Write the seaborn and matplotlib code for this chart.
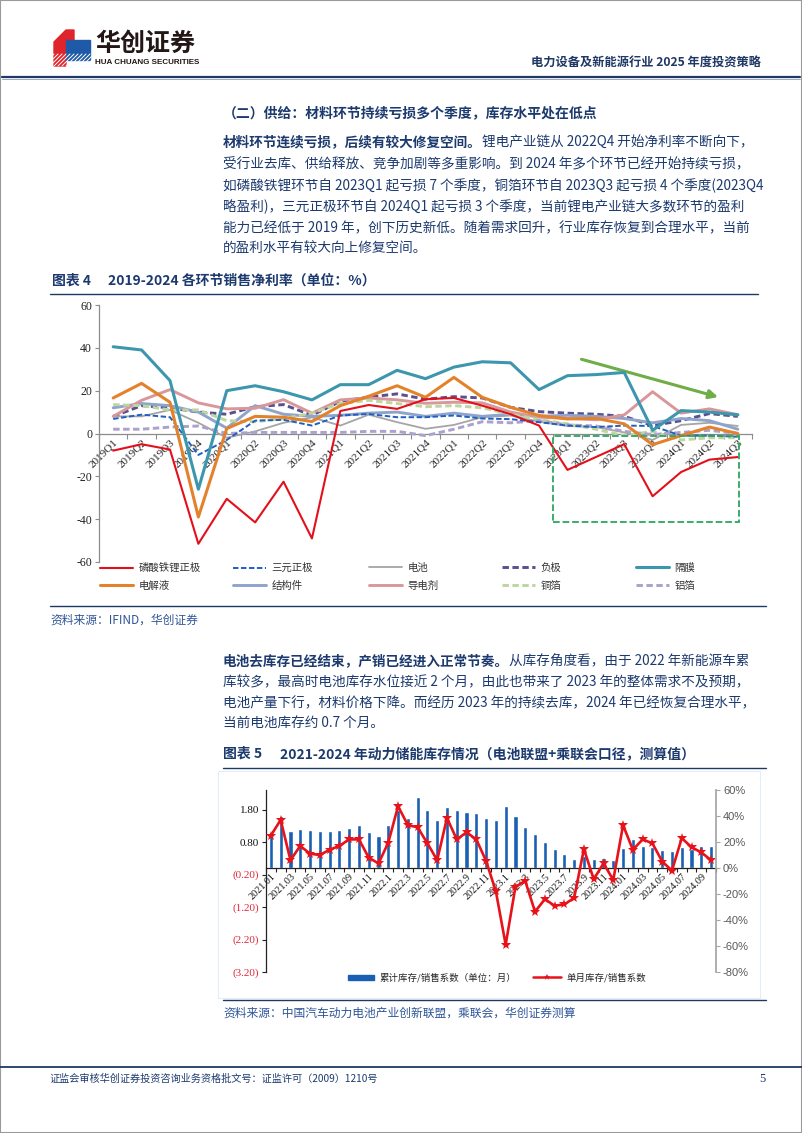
import numpy as np
import matplotlib
matplotlib.use("Agg")
import matplotlib.pyplot as plt
import seaborn as sns
from matplotlib.lines import Line2D
from matplotlib.patches import Rectangle, Polygon, Patch

# ---------------- data: chart 1 (net margin by segment, %) ----------------
quarters = ["2019Q1", "2019Q2", "2019Q3", "2019Q4", "2020Q1", "2020Q2", "2020Q3", "2020Q4",
            "2021Q1", "2021Q2", "2021Q3", "2021Q4", "2022Q1", "2022Q2", "2022Q3", "2022Q4",
            "2023Q1", "2023Q2", "2023Q3", "2023Q4", "2024Q1", "2024Q2", "2024Q3"]
lfp = [-8, -5, -7.5, -51.5, -30.5, -41.5, -22.5, -49, 10.5, 13.3, 11.5, 16, 16.6, 13, 9, 3.7,
       -17, -11, -5, -29.3, -18, -12.2, -11]
ncm = [6.8, 8.8, 7.6, -10, -3, 6, 6.4, 3.7, 8.4, 9.1, 7.6, 7.6, 8.4, 7, 6.7, 5.3,
       3.7, 3, 3.7, 3.5, -1, -1, -1.5]
battery = [8, 8, 11, 5, -2, 1, 5, 7.5, 3.7, 8.8, 5.3, 2.2, 4, 7.6, 8.4, 5.5,
           3.5, 3, 0.5, -3, 4, 5, 3.5]
anode = [8, 13, 12, 10, 9, 12.5, 13.5, 8.5, 15, 17, 18.5, 16, 17.2, 16.6, 12.2, 10.2,
         9.5, 9, 8, 3.7, 6, 9.3, 8]
separator = [40.5, 39, 24.7, -26, 20, 22.3, 19.5, 15.7, 22.8, 22.8, 29.5, 25.6, 31, 33.5, 33, 20.5,
             27, 27.5, 28.5, 1.5, 10.7, 10, 8.7]
electrolyte = [16.6, 23.4, 14.6, -39, 2.3, 8, 7.6, 5.6, 13, 17.4, 22.3, 16.9, 26.2, 16.9, 12.2, 8.4,
               6.8, 7.1, 4.5, -5.2, -1, 3, 0]
structure = [12, 14, 13, 10, 2.5, 13, 9, 8, 8.5, 9.5, 10, 8, 9.5, 8, 9, 8,
             8.5, 8, 7, 5, 7, 6, 2]
conductive = [8, 15.5, 20.5, 14.3, 11.5, 11.8, 15.8, 9.5, 15.7, 16.6, 15.7, 14.1, 14.6, 14.3, 10, 7.6,
              7.1, 6.4, 8.7, 19.5, 9.5, 11.5, 8.8]
copper = [13.5, 13, 11, 11, 6, 5.5, 7, 9.5, 14, 15.5, 14, 12.5, 13, 12, 9, 6.5,
          4.5, 2, -1, 1, -3, -2, -2]
aluminum = [2, 2, 3, 3.5, 0, 0.5, 0.5, 0.5, 0.5, 1, 1, -1, 2, 5.5, 5, 6,
            4, 3.5, 1, -0.5, 0.5, 1.5, 0]
y1_ticks = [-60, -40, -20, 0, 20, 40, 60]

# ---------------- data: chart 2 (inventory / sales) ----------------
months = ["2021.01", "2021.02", "2021.03", "2021.04", "2021.05", "2021.06", "2021.07", "2021.08",
          "2021.09", "2021.10", "2021.11", "2021.12",
          "2022.1", "2022.2", "2022.3", "2022.4", "2022.5", "2022.6", "2022.7", "2022.8",
          "2022.9", "2022.10", "2022.11", "2022.12",
          "2023.1", "2023.2", "2023.3", "2023.4", "2023.5", "2023.6", "2023.7", "2023.8",
          "2023.9", "2023.10", "2023.11", "2023.12",
          "2024.01", "2024.02", "2024.03", "2024.04", "2024.05", "2024.06", "2024.07", "2024.08",
          "2024.09", "2024.10"]
cum_ratio = [1.00, 1.60, 1.13, 1.19, 1.17, 1.14, 1.15, 1.18, 1.22, 1.31, 1.12, 1.00,
             1.31, 1.77, 1.53, 2.17, 1.80, 1.47, 1.87, 1.77, 1.71, 1.69, 1.54, 1.47,
             1.91, 1.59, 1.26, 1.04, 0.79, 0.58, 0.43, 0.29, 0.37, 0.28, 0.30, 0.24,
             0.61, 0.88, 0.67, 0.64, 0.55, 0.51, 0.65, 0.59, 0.67, 0.67]
month_ratio = [25, 37, 6, 17, 11, 10, 14, 17, 22, 22, 8, 3.5,
               19.5, 47.5, 33, 31.3, 19, 6, 38.5, 22, 27.4, 22, 5.4, -18,
               -59, -14.4, -10, -33.6, -24, -29, -28, -23, 14.6, -8.7, 3.6, -9.2,
               33, 14, 22, 19, 5, -2, 23, 16, 12, 6]
left_ticks = [-3.2, -2.2, -1.2, -0.2, 0.8, 1.8]
left_labels = ["(3.20)", "(2.20)", "(1.20)", "(0.20)", "0.80", "1.80"]
right_ticks = [-80, -60, -40, -20, 0, 20, 40, 60]

# ---------------- style ----------------
sns.set_theme(style="ticks")
CJK = ["Noto Sans CJK SC", "DejaVu Sans"]
SERIF = ["Liberation Serif", "DejaVu Serif"]
plt.rcParams["font.family"] = CJK
plt.rcParams["axes.unicode_minus"] = False

NAVY = "#1f3864"
TEXT = "#1c3a6e"
SRC = "#2f5597"
BODY = 9.8

W, H = 802, 1133
fig = plt.figure(figsize=(W / 100, H / 100), dpi=100)
renderer = fig.canvas.get_renderer()


def px_axes(l, t, r, b):
    return fig.add_axes([l / W, 1 - b / H, (r - l) / W, (b - t) / H])


def txt(x, y, s, **kw):
    kw.setdefault("va", "center")
    return fig.text(x / W, 1 - y / H, s, **kw)


def hline(x0, x1, y, **kw):
    fig.add_artist(Line2D([x0 / W, x1 / W], [1 - y / H] * 2, transform=fig.transFigure, **kw))


def para_line(x, y, bold, rest, size=BODY):
    end = x
    if bold:
        t = txt(x, y, bold, fontsize=size, fontweight="bold", color=TEXT)
        end = t.get_window_extent(renderer).x1
    if rest:
        txt(end, y, rest, fontsize=size, color=TEXT)


# page frame
fig.add_artist(Rectangle((0, 0), 1, 1, transform=fig.transFigure, fill=False,
                         ec="#9a9a9a", lw=1.5))

# ---------------- header ----------------
ax_logo = px_axes(52, 28, 92, 68)
ax_logo.set_xlim(0, 40)
ax_logo.set_ylim(40, 0)
ax_logo.axis("off")
ax_logo.add_patch(Polygon([(2, 14), (14, 2), (22, 2), (22, 12), (14, 12), (14, 38), (2, 38)],
                          closed=True, color="#e0242b"))
ax_logo.add_patch(Polygon([(14, 12), (38, 12), (38, 32), (14, 32)], closed=True, color="#1f5aa8"))
for k in range(-10, 40, 4):
    ax_logo.plot([k, k + 12], [38, 26], color="white", lw=0.7)

txt(95, 44, "华创证券", fontsize=18, fontweight="bold", color="#231815")
txt(95, 62, "HUA CHUANG SECURITIES", fontsize=5.8, fontweight="bold", color="#231815",
    family=["Liberation Sans", "DejaVu Sans"])
txt(761, 63, "电力设备及新能源行业 2025 年度投资策略", ha="right", fontsize=8.8,
    fontweight="bold", color=NAVY)
hline(2, 800, 76.5, color=NAVY, lw=1.6)
hline(2, 800, 79, color="#8a9bb8", lw=0.6)

# ---------------- section 1 text ----------------
txt(223, 113, "（二）供给：材料环节持续亏损多个季度，库存水平处在低点", fontsize=10,
    fontweight="bold", color=TEXT)
para_line(223, 142, "材料环节连续亏损，后续有较大修复空间。", "锂电产业链从 2022Q4 开始净利率不断向下，")
para_line(223, 164, "", "受行业去库、供给释放、竞争加剧等多重影响。到 2024 年多个环节已经开始持续亏损，")
para_line(223, 186, "", "如磷酸铁锂环节自 2023Q1 起亏损 7 个季度，铜箔环节自 2023Q3 起亏损 4 个季度(2023Q4")
para_line(223, 207, "", "略盈利)，三元正极环节自 2024Q1 起亏损 3 个季度，当前锂电产业链大多数环节的盈利")
para_line(223, 228, "", "能力已经低于 2019 年，创下历史新低。随着需求回升，行业库存恢复到合理水平，当前")
para_line(223, 249, "", "的盈利水平有较大向上修复空间。")

# ---------------- chart 1 ----------------
txt(52, 281, "图表 4", fontsize=10, fontweight="bold", color=TEXT)
txt(108, 281, "2019-2024 各环节销售净利率（单位：%）", fontsize=10, fontweight="bold", color=TEXT)
hline(50, 758, 294, color=NAVY, lw=1.0)

dash_s = (0, (2.8, 1.3))
dash_l = (0, (2.2, 1.2))
series1 = [
    ("磷酸铁锂正极", lfp, "#e3101c", 1.5, "-", 9),
    ("三元正极", ncm, "#1f5fc0", 1.4, dash_s, 6),
    ("电池", battery, "#a5a5a5", 1.3, "-", 5),
    ("负极", anode, "#5a4f8f", 2.1, dash_l, 4),
    ("隔膜", separator, "#3c97ae", 2.2, "-", 7),
    ("电解液", electrolyte, "#e4822c", 2.2, "-", 6),
    ("结构件", structure, "#8fa4cc", 2.1, "-", 5),
    ("导电剂", conductive, "#d9979a", 2.1, "-", 5),
    ("铜箔", copper, "#bcd69e", 2.1, dash_l, 5),
    ("铝箔", aluminum, "#aca0cc", 2.1, dash_l, 5),
]

ax1 = px_axes(99, 305, 752, 562)
idx1 = np.arange(len(quarters))
handles1 = {}
for name, vals, col, lw, ls, z in series1:
    sns.lineplot(x=idx1, y=vals, ax=ax1, color=col, linewidth=lw, linestyle=ls, zorder=z)
    handles1[name] = Line2D([], [], color=col, lw=lw, linestyle=ls)

ax1.annotate("", xy=(21.4, 16.7), xytext=(16.4, 35),
             arrowprops=dict(arrowstyle="-|>", color="#70ad47", lw=2.2, mutation_scale=13))
ax1.add_patch(Rectangle((15.5, -41.4), 6.55, 40.4, fill=False, ls="--", ec="#2aa760", lw=1.3,
                        zorder=10))

# spines first: moving a spine resets the tick objects
for s in ("top", "right"):
    ax1.spines[s].set_visible(False)
ax1.spines["bottom"].set_position(("data", 0))
for s in ("bottom", "left"):
    ax1.spines[s].set_color("#8c8c8c")
    ax1.spines[s].set_linewidth(0.9)

ax1.set_xlim(-0.5, len(quarters) - 0.5)
ax1.set_ylim(-60, 60)
ax1.set_yticks(y1_ticks)
ax1.set_yticklabels([str(v) for v in y1_ticks], family=SERIF, fontsize=8.5, color="#222222")
ax1.set_xticks(idx1)
ax1.set_xticklabels(quarters, family=SERIF, fontsize=8, color="#222222")
ax1.set_xticks(np.arange(-0.5, len(quarters), 1), minor=True)
ax1.tick_params(axis="x", which="major", length=0, pad=3)
ax1.tick_params(axis="x", which="minor", length=3.5, color="#8c8c8c", width=0.8)
ax1.tick_params(axis="y", length=3, color="#8c8c8c", width=0.8, pad=2)
for lab in ax1.get_xticklabels():
    lab.set_rotation(45)
    lab.set_ha("right")
    lab.set_rotation_mode("anchor")
ax1.set_xlabel("")
ax1.set_ylabel("")
ax1.patch.set_alpha(0)

# legend: five columns, two rows
leg_cols = [("磷酸铁锂正极", "电解液"), ("三元正极", "结构件"), ("电池", "导电剂"),
            ("负极", "铜箔"), ("隔膜", "铝箔")]
leg_x = [100, 233, 369, 502, 636]
for (a, b), lx in zip(leg_cols, leg_x):
    lg = fig.legend([handles1[a], handles1[b]], [a, b], loc="upper left",
                    bbox_to_anchor=(lx / W, 1 - 563 / H), frameon=False, fontsize=7.5,
                    borderpad=0, borderaxespad=0, handlelength=3.2, handletextpad=0.5,
                    labelspacing=0.75)
    for t in lg.get_texts():
        t.set_color("#333333")

hline(50, 766, 606, color=NAVY, lw=1.0)
txt(50, 620, "资料来源：IFIND，华创证券", fontsize=8.5, color=SRC)

# ---------------- section 2 text ----------------
para_line(223, 661, "电池去库存已经结束，产销已经进入正常节奏。", "从库存角度看，由于 2022 年新能源车累")
para_line(223, 682, "", "库较多，最高时电池库存水位接近 2 个月，由此也带来了 2023 年的整体需求不及预期，")
para_line(223, 703, "", "电池产量下行，材料价格下降。而经历 2023 年的持续去库，2024 年已经恢复合理水平，")
para_line(223, 723, "", "当前电池库存约 0.7 个月。")

# ---------------- chart 2 ----------------
txt(223, 754, "图表 5", fontsize=10, fontweight="bold", color=TEXT)
txt(280, 754, "2021-2024 年动力储能库存情况（电池联盟+乘联会口径，测算值）", fontsize=10,
    fontweight="bold", color=TEXT)
hline(223, 766, 768, color=NAVY, lw=1.0)
fig.add_artist(Rectangle((218 / W, 1 - 998 / H), (760 - 218) / W, (998 - 771) / H,
                         transform=fig.transFigure, fill=False, ec="#e2edf7", lw=0.8))

BAR = "#1a5fb4"
RED = "#e8121b"
ax2 = px_axes(266, 790, 716, 972)
idx2 = np.arange(len(months))
sns.barplot(x=idx2, y=cum_ratio, ax=ax2, color=BAR, width=0.42, saturation=1,
            errorbar=None, orient="x")

for s in ("top", "right"):
    ax2.spines[s].set_visible(False)
ax2.spines["bottom"].set_position(("data", 0))
for s in ("bottom", "left"):
    ax2.spines[s].set_color("#222222")
    ax2.spines[s].set_linewidth(0.9)

ax2.set_xlim(-0.5, len(months) - 0.5)
ax2.set_ylim(-3.2, 2.4)
ax2.set_yticks(left_ticks)
ax2.set_yticklabels(left_labels, family=SERIF, fontsize=8)
for lab, v in zip(ax2.get_yticklabels(), left_ticks):
    lab.set_color("#e0283c" if v < 0 else "#111111")
ax2.set_xticks(idx2[::2])
ax2.set_xticklabels(months[::2], family=SERIF, fontsize=7.3, color="#111111")
ax2.set_xticks(np.arange(-0.5, len(months), 1), minor=True)
ax2.tick_params(axis="x", which="major", length=0, pad=3)
ax2.tick_params(axis="x", which="minor", length=3, color="#222222", width=0.8)
ax2.tick_params(axis="y", length=3, color="#222222", width=0.8, pad=2)
for lab in ax2.get_xticklabels():
    lab.set_rotation(45)
    lab.set_ha("right")
    lab.set_rotation_mode("anchor")
ax2.set_xlabel("")
ax2.set_ylabel("")

ax2r = ax2.twinx()
sns.lineplot(x=idx2, y=month_ratio, ax=ax2r, color=RED, linewidth=1.9, marker="*",
             markersize=7.5, markeredgewidth=0)
for s in ("top", "left", "bottom"):
    ax2r.spines[s].set_visible(False)
ax2r.spines["right"].set_color("#a6a6a6")
ax2r.set_xlim(-0.5, len(months) - 0.5)
ax2r.set_ylim(-80, 60)
ax2r.set_yticks(right_ticks)
ax2r.set_yticklabels([f"{v}%" for v in right_ticks], family=["Liberation Sans"], fontsize=8,
                     color="#595959")
ax2r.tick_params(axis="y", length=3, color="#a6a6a6", width=0.8, pad=2)
ax2r.set_ylabel("")

fig.legend([Patch(color=BAR)], ["累计库存/销售系数（单位：月）"], loc="center left",
           bbox_to_anchor=(348 / W, 1 - 978 / H), frameon=False, fontsize=6.8, borderpad=0,
           borderaxespad=0, handlelength=2.8, handleheight=0.55, handletextpad=0.5)
fig.legend([Line2D([], [], color=RED, lw=1.8, marker="*", markersize=5, markeredgewidth=0)],
           ["单月库存/销售系数"], loc="center left", bbox_to_anchor=(533 / W, 1 - 978 / H),
           frameon=False, fontsize=6.8, borderpad=0, borderaxespad=0, handlelength=3.0,
           handletextpad=0.5)

hline(223, 766, 1000, color=NAVY, lw=1.0)
txt(223, 1013, "资料来源：中国汽车动力电池产业创新联盟，乘联会，华创证券测算", fontsize=8.5, color=SRC)

# ---------------- footer ----------------
hline(0, 802, 1067, color=NAVY, lw=1.3)
txt(50, 1079, "证监会审核华创证券投资咨询业务资格批文号：证监许可（2009）1210号", fontsize=7.3,
    color=TEXT)
txt(762, 1079, "5", ha="center", fontsize=9, color=TEXT, family=SERIF)

fig.savefig("out.png", dpi=100)
